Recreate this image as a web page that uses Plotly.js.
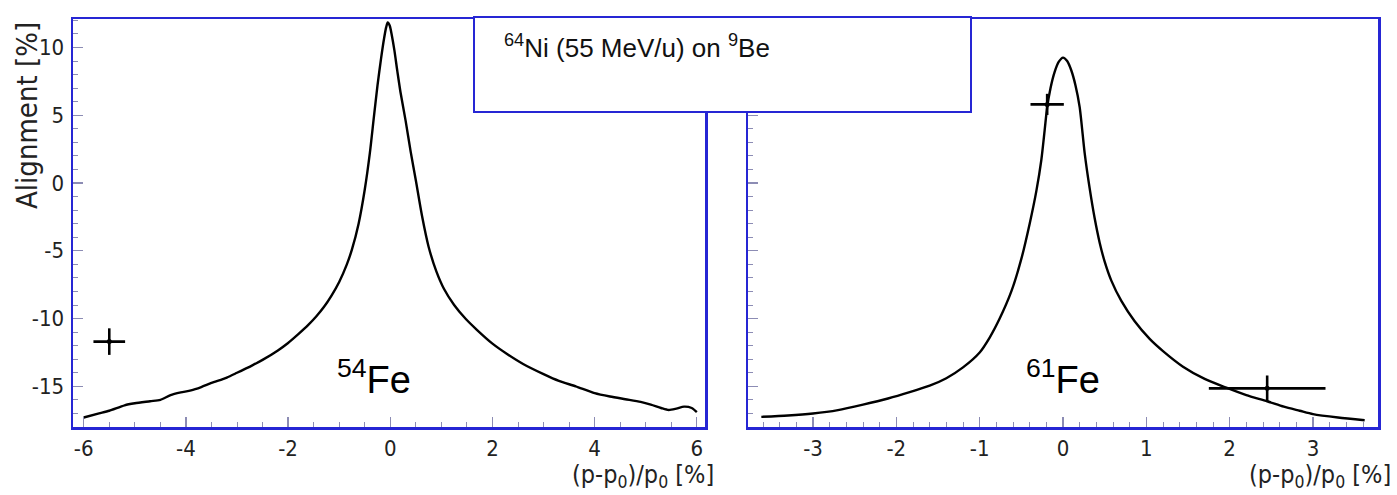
<!DOCTYPE html>
<html>
<head>
<meta charset="utf-8">
<script src="https://cdn.plot.ly/plotly-3.0.1.min.js"></script>
<style>html,body{margin:0;padding:0;background:#fff}#chart{width:1397px;height:495px}</style>
</head>
<body>
<div id="chart"></div>
<script>
// ---- data: 54Fe panel (left) ----
const fe54X = [-6, -5.7, -5.5, -5.2, -5, -4.7, -4.5, -4.3, -4.1, -3.9, -3.7, -3.5, -3.2, -3, -2.7, -2.5, -2.2, -2, -1.8, -1.6, -1.45, -1.3, -1.15, -1, -0.85, -0.75, -0.62, -0.5, -0.4, -0.32, -0.25, -0.18, -0.12, -0.08, -0.05, -0.01, 0.03, 0.08, 0.14, 0.2, 0.3, 0.4, 0.5, 0.62, 0.75, 0.9, 1.05, 1.25, 1.47, 1.7, 2, 2.3, 2.6, 3, 3.3, 3.63, 4, 4.3, 4.6, 4.9, 5.1, 5.3, 5.45, 5.6, 5.75, 5.9, 6];
const fe54Y = [-17.3, -17.0, -16.8, -16.4, -16.25, -16.1, -16.0, -15.65, -15.45, -15.3, -15.05, -14.75, -14.35, -14.0, -13.45, -13.05, -12.35, -11.8, -11.15, -10.45, -9.85, -9.15, -8.3, -7.3, -6.0, -4.9, -3.0, -0.5, 2.2, 4.9, 7.2, 9.2, 10.7, 11.5, 11.85, 11.6, 10.9, 9.8, 8.2, 6.7, 4.6, 2.3, 0.2, -2.4, -4.7, -6.5, -7.8, -9.0, -10.0, -10.85, -11.85, -12.65, -13.35, -14.1, -14.6, -15.0, -15.5, -15.75, -15.95, -16.15, -16.35, -16.6, -16.75, -16.65, -16.5, -16.6, -16.9];
const fe54PtX = [-5.5], fe54PtY = [-11.7], fe54PtEx = [0.31], fe54PtEy = [0.98];

// ---- data: 61Fe panel (right) ----
const fe61X = [-3.62, -3.3, -3, -2.7, -2.4, -2.1, -1.85, -1.6, -1.4, -1.2, -1, -0.88, -0.76, -0.62, -0.5, -0.4, -0.32, -0.26, -0.22, -0.19, -0.15, -0.1, -0.05, 0, 0.05, 0.1, 0.15, 0.2, 0.26, 0.32, 0.38, 0.44, 0.5, 0.58, 0.7, 0.86, 1.04, 1.2, 1.44, 1.7, 1.96, 2.2, 2.45, 2.65, 2.84, 3.0, 3.3, 3.62];
const fe61Y = [-17.25, -17.15, -17.0, -16.75, -16.35, -15.9, -15.45, -14.95, -14.4, -13.6, -12.5, -11.4, -10.0, -8.0, -5.6, -3.0, -0.6, 1.7, 3.9, 5.6, 7.0, 8.2, 8.95, 9.25, 9.0, 8.3, 7.2, 5.6, 2.2, -0.4, -2.6, -4.4, -5.8, -7.2, -8.7, -10.2, -11.5, -12.4, -13.55, -14.45, -15.1, -15.65, -16.1, -16.5, -16.8, -17.05, -17.3, -17.5];
const fe61PtX = [-0.19, 2.45], fe61PtY = [5.8, -15.15], fe61PtEx = [0.2, 0.7], fe61PtEy = [0.78, 0.95];

// ---- tick labels ----
const yTickVals = [10, 5, 0, -5, -10, -15];
const yTickText = ['10', '5', '0', '-5', '-10', '-15'];
const x1TickVals = [-6, -4, -2, 0, 2, 4, 6];
const x1TickText = ['-6', '-4', '-2', '0', '2', '4', '6'];
const x2TickVals = [-3, -2, -1, 0, 1, 2, 3];
const x2TickText = ['-3', '-2', '-1', '0', '1', '2', '3'];

// ---- texts ----
const yTitle = 'Alignment [%]';
const xTitle = '(p-p<sub>0</sub>)/p<sub>0</sub> [%]';
const label54 = '<sup>54</sup>Fe';
const label61 = '<sup>61</sup>Fe';
const legendText = '<sup>64</sup>Ni (55 MeV/u) on <sup>9</sup>Be';

// ---- layout helpers (pixel -> paper) ----
const W = 1397, H = 495;
const px = v => v / W;
const py = v => 1 - v / H;
const BLUE = '#2626d4';
const TICKC = '#8c8cb4';
const tickFont = {family: 'DejaVu Sans Condensed, DejaVu Sans', size: 22, color: '#222'};

const curveLine = {color: '#000', width: 2.4, shape: 'spline', smoothing: 0.7};

const traces = [
  {x: fe54X, y: fe54Y, xaxis: 'x', yaxis: 'y', mode: 'lines', line: curveLine, hoverinfo: 'skip'},
  {x: fe61X, y: fe61Y, xaxis: 'x2', yaxis: 'y2', mode: 'lines', line: curveLine, hoverinfo: 'skip'},
  {x: fe54PtX, y: fe54PtY, xaxis: 'x', yaxis: 'y', mode: 'markers',
   marker: {color: '#000', size: 5},
   error_x: {type: 'data', array: fe54PtEx, color: '#000', thickness: 2.6, width: 0},
   error_y: {type: 'data', array: fe54PtEy, color: '#000', thickness: 2.6, width: 0}},
  {x: fe61PtX, y: fe61PtY, xaxis: 'x2', yaxis: 'y2', mode: 'markers',
   marker: {color: '#000', size: 5},
   error_x: {type: 'data', array: fe61PtEx, color: '#000', thickness: 2.6, width: 0},
   error_y: {type: 'data', array: fe61PtEy, color: '#000', thickness: 2.6, width: 0}}
];

const axBase = {
  showgrid: false, zeroline: false, showline: true, mirror: true,
  linecolor: BLUE, linewidth: 2.5, ticks: 'inside', ticklen: 10, tickwidth: 1.2,
  tickcolor: TICKC, tickfont: tickFont, tickmode: 'array', fixedrange: true
};

const yDomain = [py(427), py(19)];
const layout = {
  width: W, height: H, margin: {l: 0, r: 0, t: 0, b: 0},
  paper_bgcolor: '#fff', plot_bgcolor: '#fff', showlegend: false,
  xaxis: Object.assign({}, axBase, {domain: [px(73), px(705)], range: [-6.21, 6.16], anchor: 'y',
    tickvals: x1TickVals, ticktext: x1TickText, ticklabelstandoff: 0,
    minor: {dtick: 0.5, tick0: 0, ticks: 'inside', ticklen: 5, tickcolor: TICKC, tickwidth: 1}}),
  yaxis: Object.assign({}, axBase, {domain: yDomain, range: [-18, 12.1], anchor: 'x',
    tickvals: yTickVals, ticktext: yTickText, ticklabelstandoff: 2,
    minor: {dtick: 1, tick0: 0, ticks: 'inside', ticklen: 5, tickcolor: TICKC, tickwidth: 1}}),
  xaxis2: Object.assign({}, axBase, {domain: [px(748), px(1378)], range: [-3.78, 3.78], anchor: 'y2',
    tickvals: x2TickVals, ticktext: x2TickText, ticklabelstandoff: 0,
    minor: {dtick: 0.2, tick0: 0, ticks: 'inside', ticklen: 5, tickcolor: TICKC, tickwidth: 1}}),
  yaxis2: Object.assign({}, axBase, {domain: yDomain, range: [-18, 12.1], anchor: 'x2',
    tickvals: yTickVals, ticktext: yTickText, showticklabels: false,
    minor: {dtick: 1, tick0: 0, ticks: 'inside', ticklen: 5, tickcolor: TICKC, tickwidth: 1}}),
  shapes: [
    {type: 'rect', xref: 'paper', yref: 'paper', x0: px(474), x1: px(971), y0: py(112), y1: py(17),
     fillcolor: '#fff', line: {color: BLUE, width: 2}, layer: 'above'}
  ],
  annotations: [
    {text: yTitle, xref: 'paper', yref: 'paper', x: px(27), y: py(116), textangle: -90,
     showarrow: false, xanchor: 'center', yanchor: 'middle',
     font: {family: 'DejaVu Sans Condensed, DejaVu Sans', size: 29, color: '#222'}},
    {text: xTitle, xref: 'paper', yref: 'paper', x: px(716), y: py(476), xanchor: 'right', yanchor: 'middle',
     showarrow: false, font: {family: 'DejaVu Sans Condensed, DejaVu Sans', size: 25, color: '#222'}},
    {text: xTitle, xref: 'paper', yref: 'paper', x: px(1393), y: py(476), xanchor: 'right', yanchor: 'middle',
     showarrow: false, font: {family: 'DejaVu Sans Condensed, DejaVu Sans', size: 25, color: '#222'}},
    {text: label54, xref: 'paper', yref: 'paper', x: px(374), y: py(377), xanchor: 'center', yanchor: 'middle',
     showarrow: false, font: {family: 'Liberation Sans, Arial', size: 38, color: '#000'}},
    {text: label61, xref: 'paper', yref: 'paper', x: px(1063), y: py(377), xanchor: 'center', yanchor: 'middle',
     showarrow: false, font: {family: 'Liberation Sans, Arial', size: 38, color: '#000'}},
    {text: legendText, xref: 'paper', yref: 'paper', x: px(502), y: py(46), xanchor: 'left', yanchor: 'middle',
     showarrow: false, font: {family: 'Liberation Sans Narrow, Liberation Sans, Arial', size: 26, color: '#111'}}
  ]
};

Plotly.newPlot('chart', traces, layout, {staticPlot: true, displayModeBar: false});
</script>
</body>
</html>
